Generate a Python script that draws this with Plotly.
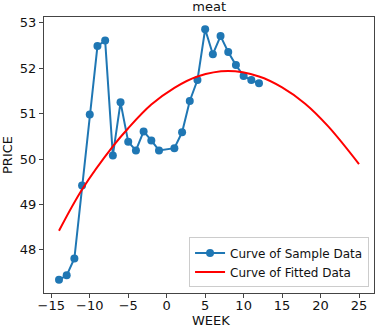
import plotly.graph_objects as go

# Sample data
weeks = [-14, -13, -12, -11, -10, -9, -8, -7, -6, -5, -4, -3, -2, -1,
         1, 2, 3, 4, 5, 6, 7, 8, 9, 10, 11, 12]
prices = [47.34, 47.44, 47.81, 49.42, 50.98, 52.49, 52.61, 50.08, 51.25, 50.38,
          50.19, 50.61, 50.41, 50.19, 50.24, 50.59, 51.28, 51.74, 52.86, 52.31,
          52.71, 52.36, 52.07, 51.83, 51.74, 51.67]

# Fitted curve
fit_weeks = [-14, -11, -7, -5, -2, 1, 4, 8, 12, 15, 18, 21, 25]
fit_prices = [48.42, 49.33, 50.28, 50.68, 51.20, 51.57, 51.82, 51.94, 51.82,
              51.58, 51.22, 50.72, 49.89]

x_ticks = [-15, -10, -5, 0, 5, 10, 15, 20, 25]
y_ticks = [48, 49, 50, 51, 52, 53]

font_family = "DejaVu Sans"

fig = go.Figure()
fig.add_trace(go.Scatter(
    x=weeks, y=prices, mode="lines+markers", name="Curve of Sample Data",
    line=dict(color="#1f77b4", width=2),
    marker=dict(color="#1f77b4", size=8),
))
fig.add_trace(go.Scatter(
    x=fit_weeks, y=fit_prices, mode="lines", name="Curve of Fitted Data",
    line=dict(color="red", width=2, shape="spline"),
))

axis_common = dict(
    showline=True, mirror=True, linecolor="#444", linewidth=1,
    ticks="outside", ticklen=4, tickcolor="#444",
    showgrid=False, zeroline=False,
    tickfont=dict(family=font_family, size=13, color="#111"),
)

fig.update_layout(
    width=377, height=329,
    margin=dict(l=44, r=3, t=17, b=36),
    paper_bgcolor="white", plot_bgcolor="white",
    title=dict(text="meat", x=0.555, xanchor="center", y=0.995, yanchor="top",
               font=dict(family=font_family, size=13, color="#111")),
    xaxis=dict(range=[-15.95, 26.95], tickvals=x_ticks, automargin=False,
               ticklabelstandoff=-4, **axis_common),
    yaxis=dict(range=[47.05, 53.13], tickvals=y_ticks, automargin=False,
               title=dict(text="PRICE", standoff=4,
                          font=dict(family=font_family, size=13, color="#111")),
               **axis_common),
    legend=dict(x=0.985, y=0.02, xanchor="right", yanchor="bottom",
                bgcolor="white", bordercolor="#ccc", borderwidth=1,
                font=dict(family=font_family, size=12, color="#111"),
                tracegroupgap=0, itemwidth=30),
    showlegend=True,
    annotations=[dict(text="WEEK", xref="paper", yref="paper",
                      x=0.506, y=-0.099, xanchor="center", yanchor="middle",
                      showarrow=False, borderpad=0,
                      font=dict(family=font_family, size=13, color="#111"))],
)

fig.write_html("out.html", config={"displayModeBar": False},
               post_script="document.body.style.margin='0';")
